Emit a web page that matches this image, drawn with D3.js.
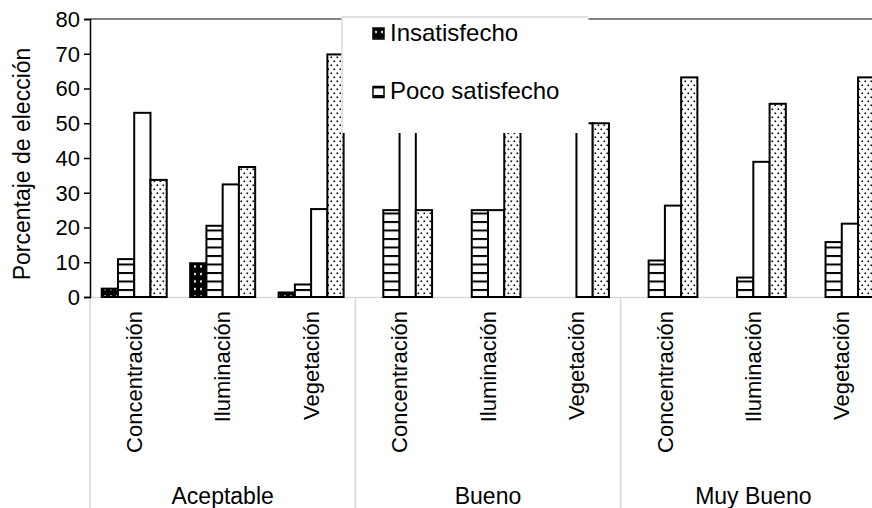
<!DOCTYPE html>
<html><head><meta charset="utf-8">
<script src="https://cdn.jsdelivr.net/npm/d3@7/dist/d3.min.js"></script>
<style>html,body{margin:0;padding:0;background:#fff;overflow:hidden}svg{display:block;font-family:"Liberation Sans",Arial,sans-serif}</style>
</head><body><svg id="c" width="872" height="508"></svg>
<script>
const groups = ["Aceptable", "Bueno", "Muy Bueno"];
const criteria = ["Concentración", "Iluminación", "Vegetación"];
const seriesNames = ["Insatisfecho", "Poco satisfecho", "Satisfecho", "Muy satisfecho"];
const insatisfecho   = [2.4, 9.7, 1.3, 0, 0, 0, 0, 0, 0];
const pocoSatisfecho = [10.9, 20.5, 3.6, 25, 25, 0, 10.5, 5.6, 15.8];
const satisfecho     = [53.0, 32.4, 25.3, 50, 25, 50, 26.3, 38.9, 21.1];
const muySatisfecho  = [33.7, 37.4, 69.8, 25, 50, 50, 63.2, 55.6, 63.2];
const yTicks = [0, 10, 20, 30, 40, 50, 60, 70, 80];
const yTitle = "Porcentaje de elección";
const legendShown = ["Insatisfecho", "Poco satisfecho"];

const seriesValues = [insatisfecho, pocoSatisfecho, satisfecho, muySatisfecho];
const cats = [];
groups.forEach((g, gi) => criteria.forEach((c, ci) => cats.push({ key: gi * 3 + ci, group: g, crit: c })));

const svg = d3.select("#c");
const FONT = 22;
const L = 90, R = 886, T = 19, B = 297;

const defs = svg.append("defs");
const p1 = defs.append("pattern").attr("id", "pInsat").attr("patternUnits", "userSpaceOnUse").attr("width", 6).attr("height", 7.5);
p1.append("rect").attr("width", 6).attr("height", 7.5).attr("fill", "#000");
p1.append("rect").attr("x", 2).attr("y", 3).attr("width", 2).attr("height", 2).attr("fill", "#fff");
const p2 = defs.append("pattern").attr("id", "pPoco").attr("patternUnits", "userSpaceOnUse").attr("width", 8).attr("height", 8.5);
p2.append("rect").attr("width", 8).attr("height", 8.5).attr("fill", "#fff");
p2.append("rect").attr("y", 0).attr("width", 8).attr("height", 2).attr("fill", "#000");
const p4 = defs.append("pattern").attr("id", "pMuy").attr("patternUnits", "userSpaceOnUse").attr("width", 6).attr("height", 8);
p4.append("rect").attr("width", 6).attr("height", 8).attr("fill", "#fff");
p4.append("rect").attr("x", 0.5).attr("y", 0.5).attr("width", 1.6).attr("height", 1.6).attr("fill", "#000");
p4.append("rect").attr("x", 3.5).attr("y", 4.5).attr("width", 1.6).attr("height", 1.6).attr("fill", "#000");
const fills = ["url(#pInsat)", "url(#pPoco)", "#fff", "url(#pMuy)"];

const x0 = d3.scaleBand().domain(cats.map(d => d.key)).range([L, R]).padding(0);
const bw = x0.bandwidth();
const x1 = d3.scaleBand().domain(d3.range(seriesNames.length)).range([bw * 0.1325, bw * 0.8675]).padding(0);
const y = d3.scaleLinear().domain([0, 80]).range([B, T]);

svg.append("line").attr("x1", L).attr("x2", R).attr("y1", B + 0.5).attr("y2", B + 0.5).attr("stroke", "#d9d9d9").attr("stroke-width", 1.5);
const groupEdges = d3.range(groups.length + 1).map(i => i === groups.length ? R : x0(i * 3));
svg.selectAll(".sep").data(groupEdges).join("line")
  .attr("x1", d => d).attr("x2", d => d).attr("y1", B).attr("y2", 508)
  .attr("stroke", "#d9d9d9").attr("stroke-width", 1.5);

svg.append("line").attr("x1", L).attr("x2", 872).attr("y1", T).attr("y2", T).attr("stroke", "#595959").attr("stroke-width", 1.5);

const barData = [];
cats.forEach((c, ci) => seriesValues.forEach((arr, si) => { if (arr[ci] > 0) barData.push({ ci, si, v: arr[ci] }); }));
svg.append("g").selectAll("rect").data(barData).join("rect")
  .attr("x", d => x0(d.ci) + x1(d.si))
  .attr("y", d => y(d.v))
  .attr("width", x1.bandwidth())
  .attr("height", d => y(0) - y(d.v))
  .attr("fill", d => fills[d.si])
  .attr("stroke", "#000").attr("stroke-width", 2);

const yAxis = d3.axisLeft(y).tickValues(yTicks).tickSize(6).tickPadding(4);
const ga = svg.append("g").attr("transform", `translate(${L},0)`).call(yAxis);
ga.select(".domain").attr("stroke", "#000").attr("stroke-width", 1.5);
ga.selectAll(".tick line").attr("stroke", "#000").attr("stroke-width", 1.5);
ga.selectAll(".tick text").attr("font-size", FONT).attr("font-family", "Liberation Sans, Arial, sans-serif").attr("fill", "#000").attr("dy", "0.34em");

svg.append("text").attr("transform", "translate(22,164) rotate(-90)")
  .attr("text-anchor", "middle").attr("dy", "0.35em")
  .attr("font-size", 23).attr("fill", "#000").text(yTitle);

svg.append("g").selectAll("text").data(cats).join("text")
  .attr("transform", d => `translate(${x0(d.key) + bw / 2},311) rotate(-90)`)
  .attr("text-anchor", "end").attr("dy", "0.35em")
  .attr("font-size", FONT).attr("fill", "#000").text(d => d.crit);

svg.append("g").selectAll("text").data(groups).join("text")
  .attr("x", (d, i) => (groupEdges[i] + groupEdges[i + 1]) / 2)
  .attr("y", 504).attr("text-anchor", "middle")
  .attr("font-size", 23).attr("fill", "#000").text(d => d);

const lg = svg.append("g");
lg.append("rect").attr("x", 341.5).attr("y", 17).attr("width", 247).attr("height", 116).attr("fill", "#fff");
lg.append("line").attr("x1", 341.5).attr("x2", 588.5).attr("y1", 17).attr("y2", 17).attr("stroke", "#d9d9d9").attr("stroke-width", 1.5);
lg.append("line").attr("x1", 342).attr("x2", 342).attr("y1", 17).attr("y2", 133).attr("stroke", "#d9d9d9").attr("stroke-width", 1.5);
const legRows = legendShown.map((name, i) => ({ name, si: seriesNames.indexOf(name), i }));
const lgi = lg.selectAll(".li").data(legRows).join("g").attr("transform", d => `translate(373,${28 + d.i * 58.5})`);
lgi.append("rect").attr("width", 11).attr("height", 11).attr("fill", d => fills[d.si]).attr("stroke", "#000").attr("stroke-width", 1.5);
lgi.append("text").attr("x", 17).attr("y", 12.5).attr("font-size", 24).attr("fill", "#000").text(d => d.name);
</script></body></html>
